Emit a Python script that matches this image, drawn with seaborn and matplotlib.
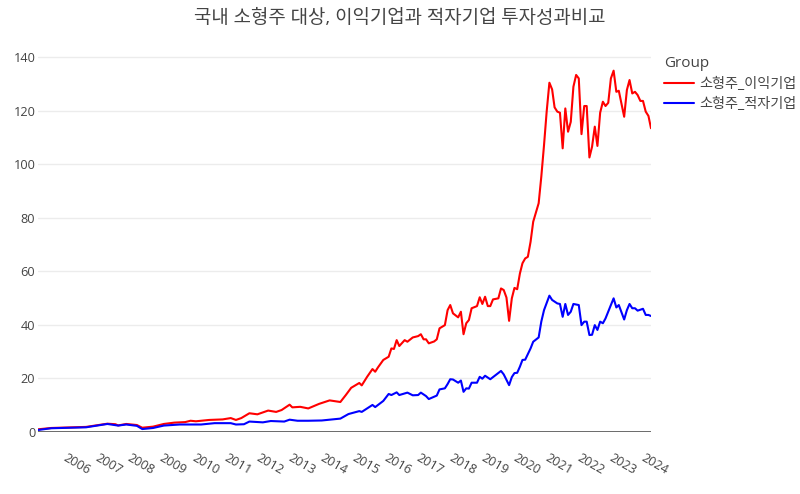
import matplotlib
matplotlib.use("Agg")
import matplotlib.pyplot as plt
import matplotlib.dates as mdates
import seaborn as sns
import pandas as pd

# ---------------- data ----------------
red_name = "소형주_이익기업"
blue_name = "소형주_적자기업"
title_text = "국내 소형주 대상, 이익기업과 적자기업 투자성과비교"
year_ticks = list(range(2006, 2025))

red_dates = [
    "2005-02", "2005-07", "2006-08", "2006-12", "2007-04", "2007-07", "2007-08", "2007-11",
    "2008-03", "2008-05", "2008-09", "2009-01", "2009-05", "2009-09", "2009-11", "2010-01",
    "2010-06", "2010-11", "2011-02", "2011-04", "2011-06", "2011-09", "2011-12", "2012-04",
    "2012-07", "2012-09", "2012-12", "2013-01", "2013-04", "2013-07", "2013-11", "2014-03",
    "2014-07", "2014-09", "2014-11", "2015-02", "2015-03", "2015-05", "2015-07", "2015-08",
    "2015-09", "2015-11", "2016-01", "2016-02", "2016-03", "2016-04", "2016-05", "2016-07",
    "2016-08", "2016-10", "2016-12", "2017-01", "2017-02", "2017-03", "2017-04", "2017-06",
    "2017-07", "2017-08", "2017-10", "2017-11", "2017-12", "2018-01", "2018-03", "2018-04",
    "2018-05", "2018-06", "2018-07", "2018-08", "2018-10", "2018-11", "2018-12", "2019-01",
    "2019-02", "2019-03", "2019-04", "2019-06", "2019-07", "2019-08", "2019-09", "2019-10",
    "2019-11", "2019-12", "2020-01", "2020-02", "2020-03", "2020-04", "2020-05", "2020-06",
    "2020-07", "2020-09", "2020-10", "2020-11", "2020-12", "2021-01", "2021-02", "2021-03",
    "2021-04", "2021-05", "2021-06", "2021-07", "2021-08", "2021-09", "2021-10", "2021-11",
    "2021-12", "2022-01", "2022-02", "2022-03", "2022-04", "2022-05", "2022-06", "2022-07",
    "2022-08", "2022-09", "2022-10", "2022-11", "2022-12", "2023-01", "2023-02", "2023-03",
    "2023-05", "2023-06", "2023-07", "2023-08", "2023-09", "2023-10", "2023-11", "2023-12",
    "2024-01", "2024-02", "2024-03",
]
red_values = [
    1.0, 1.5, 1.9, 2.5, 3.1, 2.9, 2.45, 3.0,
    2.6, 1.6, 2.0, 3.0, 3.5, 3.7, 4.2, 4.0,
    4.5, 4.7, 5.2, 4.5, 5.2, 7.0, 6.6, 8.0,
    7.5, 8.2, 10.2, 9.2, 9.4, 8.8, 10.5, 11.8,
    11.2, 13.8, 16.5, 18.3, 17.4, 20.6, 23.5, 22.5,
    24.1, 26.9, 28.1, 31.2, 31.0, 34.3, 32.1, 34.3,
    33.7, 35.3, 35.8, 36.5, 34.6, 34.6, 33.1, 33.8,
    34.6, 38.7, 39.9, 45.5, 47.4, 44.3, 42.8, 44.9,
    36.5, 40.6, 41.8, 46.2, 47.0, 50.3, 47.8, 50.5,
    47.0, 47.0, 49.5, 49.9, 53.6, 53.0, 50.2, 41.5,
    49.9, 53.8, 53.3, 59.2, 63.0, 64.8, 65.4, 71.0,
    78.5, 85.4, 95.3, 107.1, 119.6, 130.4, 127.9, 121.2,
    119.6, 119.2, 105.9, 120.8, 112.1, 115.8, 128.9, 133.3,
    132.0, 111.2, 121.7, 121.7, 102.5, 106.5, 114.0, 106.8,
    119.2, 123.3, 121.7, 122.9, 132.0, 134.9, 127.0, 127.4,
    117.7, 127.7, 131.4, 126.4, 127.0, 125.8, 123.6, 123.6,
    119.6, 118.0, 113.4,
]

blue_dates = [
    "2005-02", "2005-07", "2006-08", "2007-04", "2007-08", "2007-11", "2008-03", "2008-05",
    "2008-09", "2009-01", "2009-07", "2010-03", "2010-08", "2011-02", "2011-04", "2011-07",
    "2011-09", "2012-02", "2012-05", "2012-10", "2012-12", "2013-03", "2013-07", "2013-12",
    "2014-07", "2014-10", "2015-02", "2015-03", "2015-07", "2015-08", "2015-11", "2016-01",
    "2016-02", "2016-04", "2016-05", "2016-08", "2016-10", "2016-12", "2017-01", "2017-03",
    "2017-04", "2017-07", "2017-08", "2017-10", "2017-11", "2017-12", "2018-01", "2018-03",
    "2018-04", "2018-05", "2018-06", "2018-07", "2018-08", "2018-10", "2018-11", "2018-12",
    "2019-01", "2019-03", "2019-07", "2019-08", "2019-10", "2019-11", "2019-12", "2020-01",
    "2020-02", "2020-03", "2020-04", "2020-06", "2020-07", "2020-09", "2020-10", "2020-11",
    "2021-01", "2021-02", "2021-04", "2021-05", "2021-06", "2021-07", "2021-08", "2021-09",
    "2021-10", "2021-12", "2022-01", "2022-02", "2022-03", "2022-04", "2022-05", "2022-06",
    "2022-07", "2022-08", "2022-09", "2022-10", "2022-12", "2023-01", "2023-02", "2023-03",
    "2023-05", "2023-06", "2023-07", "2023-08", "2023-09", "2023-10", "2023-12", "2024-01",
    "2024-02", "2024-03",
]
blue_values = [
    0.75, 1.4, 1.75, 3.0, 2.4, 2.8, 2.3, 1.1,
    1.5, 2.4, 2.8, 2.8, 3.3, 3.3, 2.8, 2.9,
    3.9, 3.6, 4.1, 3.9, 4.6, 4.2, 4.2, 4.3,
    5.0, 6.7, 7.8, 7.5, 10.1, 9.3, 11.6, 14.2,
    13.8, 14.8, 13.8, 14.7, 13.7, 13.8, 14.7, 13.4,
    12.3, 13.6, 15.9, 16.3, 17.9, 19.7, 19.6, 18.4,
    19.2, 15.0, 16.3, 16.2, 18.4, 18.4, 20.6, 19.9,
    21.0, 19.7, 22.8, 21.5, 17.5, 20.5, 22.0, 22.1,
    24.4, 26.9, 27.0, 31.2, 33.7, 35.3, 41.2, 45.5,
    50.9, 49.3, 48.0, 47.8, 43.0, 47.8, 43.7, 44.9,
    47.8, 47.4, 39.9, 41.2, 41.2, 36.2, 36.3, 39.9,
    38.1, 41.2, 40.6, 42.4, 47.4, 49.9, 46.5, 47.4,
    42.0, 45.5, 47.8, 46.2, 46.2, 45.3, 46.0, 43.7,
    43.7, 43.3,
]

df = pd.concat([
    pd.DataFrame({"date": pd.to_datetime(red_dates), "value": red_values, "Group": red_name}),
    pd.DataFrame({"date": pd.to_datetime(blue_dates), "value": blue_values, "Group": blue_name}),
], ignore_index=True)

# ---------------- style ----------------
sns.set_theme(style="white")
plt.rcParams["font.family"] = ["Open Sans", "Noto Sans CJK KR", "DejaVu Sans"]
txt = "#444444"

W, H = 800, 494
fig = plt.figure(figsize=(W / 100, H / 100), dpi=100)
ymin, ymax = 0, 142
y0_px, y140_px = 432, 57
ppu = (y0_px - y140_px) / 140.0
top_px = y0_px - ymax * ppu
left_px, right_px = 38, 651
ax = fig.add_axes([left_px / W, 1 - y0_px / H, (right_px - left_px) / W, (y0_px - top_px) / H])

sns.lineplot(data=df, x="date", y="value", hue="Group",
             palette={red_name: "#ff0000", blue_name: "#0000ff"},
             linewidth=1.5, ax=ax, legend=True)

ax.set_xlim(pd.Timestamp(red_dates[0]), pd.Timestamp(red_dates[-1]))
ax.set_ylim(ymin, ymax)
ax.set_xlabel("")
ax.set_ylabel("")

ax.set_yticks(range(0, 141, 20))
ax.yaxis.grid(True, color="#ececec", linewidth=1)
ax.xaxis.grid(False)
ax.axhline(0, color=txt, linewidth=1.1, zorder=3)
for s in ax.spines.values():
    s.set_visible(False)

ax.set_xticks([pd.Timestamp(f"{y}-01-01") for y in year_ticks])
ax.xaxis.set_major_formatter(mdates.DateFormatter("%Y"))
ax.tick_params(axis="x", length=0, pad=14, labelsize=9.2, labelcolor=txt)
ax.tick_params(axis="y", length=0, pad=2, labelsize=9.2, labelcolor=txt)
for lab in ax.get_xticklabels():
    lab.set_rotation(-30)
    lab.set_ha("left")
    lab.set_va("top")
    lab.set_rotation_mode("anchor")

fig.text(0.5, 1 - 18 / H, title_text, ha="center", va="center", fontsize=13.6, color=txt)

leg = ax.legend(title="Group", loc="upper left",
                bbox_to_anchor=(664 / W, 1 - 56 / H), bbox_transform=fig.transFigure,
                frameon=False, alignment="left", fontsize=10.2, title_fontsize=11,
                handlelength=2.1, handletextpad=0.4, labelspacing=0.4,
                borderaxespad=0, borderpad=0)
leg.get_title().set_color(txt)
for t in leg.get_texts():
    t.set_color(txt)
for l in leg.get_lines():
    l.set_linewidth(1.5)

fig.savefig("out.png", dpi=100)
